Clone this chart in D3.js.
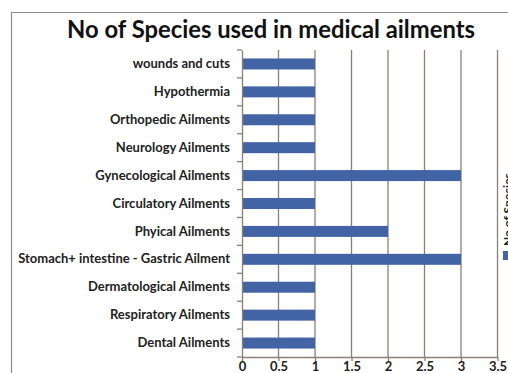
<!DOCTYPE html>
<html><head><meta charset="utf-8">
<script src="https://cdn.jsdelivr.net/npm/d3@7"></script>
<style>body{margin:0;background:#fff}svg{display:block}</style>
</head><body>
<script>
const categories = ["wounds and cuts","Hypothermia","Orthopedic Ailments","Neurology Ailments","Gynecological Ailments","Circulatory Ailments","Phyical Ailments","Stomach+ intestine - Gastric Ailment","Dermatological Ailments","Respiratory Ailments","Dental Ailments"];
const values = [1,1,1,1,3,1,2,3,1,1,1];
const xTicks = [0,0.5,1,1.5,2,2.5,3,3.5];
const seriesName = "No of Species";
const title = "No of Species used in medical ailments";

const W=508,H=373;
const svg=d3.select("body").append("svg").attr("width",W).attr("height",H);
const font="Lato, 'Open Sans', sans-serif";

// frame
svg.append("path").attr("d","M11.5,373 L11.5,12.5 L508,12.5").attr("fill","none").attr("stroke","#8c8c8c").attr("stroke-width",1.2);

svg.append("text").attr("x",271).attr("y",38).attr("text-anchor","middle")
  .attr("font-family",font).attr("font-weight","bold").attr("font-size",23.8)
  .attr("fill","#111").text(title);

const x=d3.scaleLinear().domain([0,3.5]).range([242,497.5]);
const yb=d3.scaleBand().domain(categories).range([50,357]);

const gridC="#8a8079";
// gridlines
svg.append("g").selectAll("line").data(xTicks.slice(1)).join("line")
  .attr("x1",d=>x(d)).attr("x2",d=>x(d)).attr("y1",50).attr("y2",357)
  .attr("stroke",gridC).attr("stroke-width",1.3);

// bars
svg.append("g").selectAll("rect").data(values).join("rect")
  .attr("x",x(0)).attr("y",(d,i)=>yb(categories[i])+yb.bandwidth()/2-5.5)
  .attr("width",d=>x(d)-x(0)).attr("height",11).attr("fill","#4264a5");

// x axis
const xa=svg.append("g").attr("transform","translate(0,357)")
  .call(d3.axisBottom(x).tickValues(xTicks).tickFormat(d=>String(d)).tickSize(4).tickSizeOuter(0));
xa.select(".domain").attr("stroke",gridC).attr("stroke-width",1.3);
xa.selectAll(".tick line").attr("stroke",gridC).attr("stroke-width",1.3);
xa.selectAll("text").attr("font-family",font).attr("font-weight","bold").attr("font-size",13).attr("fill","#222").attr("dy","0.5em");

// y axis
const ya=svg.append("g").attr("transform","translate(242,0)")
  .call(d3.axisLeft(yb).tickSize(0).tickPadding(12));
ya.select(".domain").attr("stroke",gridC).attr("stroke-width",1.3);
ya.selectAll("text").attr("font-family",font).attr("font-weight","bold").attr("font-size",13).attr("fill","#222");
// category boundary ticks
svg.append("g").selectAll("line").data(categories.concat(["end"])).join("line")
  .attr("x1",237).attr("x2",242)
  .attr("y1",(d,i)=>i<categories.length?yb(d):357).attr("y2",(d,i)=>i<categories.length?yb(d):357)
  .attr("stroke",gridC).attr("stroke-width",1.3);

// legend (cut off at right, as in the reference)
svg.append("rect").attr("x",503).attr("y",251).attr("width",8).attr("height",9).attr("fill","#4264a5");
svg.append("text").attr("transform","translate(512,246) rotate(-90)")
  .attr("font-family",font).attr("font-weight","bold").attr("font-size",12).attr("fill","#222").text(seriesName);
</script>
</body></html>
